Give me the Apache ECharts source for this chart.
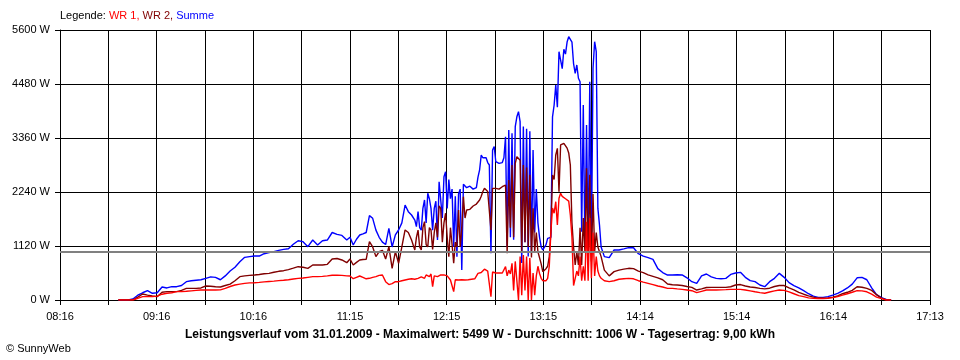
<!DOCTYPE html>
<html><head><meta charset="utf-8">
<script src="https://cdn.jsdelivr.net/npm/echarts@6/dist/echarts.min.js"></script>
<style>html,body{margin:0;padding:0;background:#fff}#c{width:960px;height:360px}</style>
</head><body><div id="c"></div>
<script>
const tickLabels = ['08:16','09:16','10:16','11:15','12:15','13:15','14:14','15:14','16:14','17:13'];
const yTicks = [0,1120,2240,3360,4480,5600];
const average = 1006;

const times = [
'08:52','08:55','08:58','09:01','09:04','09:07','09:10','09:13','09:16','09:19','09:22','09:25','09:28',
'09:31','09:34','09:37','09:40','09:43','09:46','09:49','09:52','09:55','09:58','10:01','10:04','10:07',
'10:10','10:13','10:16','10:19','10:22','10:25','10:28','10:31','10:34','10:37','10:40','10:43','10:46',
'10:49','10:52','10:55','10:58','11:01','11:04','11:07','11:10','11:13',
'11:15','11:17','11:19','11:21','11:23','11:25','11:27','11:29','11:31','11:33','11:35','11:37','11:39','11:41','11:43','11:45','11:47','11:49','11:51','11:53','11:55',
'11:56','11:57','11:58','11:59',
'12:00','12:01','12:02','12:03','12:04','12:05','12:06','12:07','12:08','12:09',
'12:10','12:11','12:12','12:13','12:14','12:15','12:16','12:17','12:18','12:19',
'12:20','12:21','12:22','12:23','12:24','12:25','12:26','12:27','12:28','12:29',
'12:30','12:31','12:32','12:33','12:34','12:35','12:36','12:37','12:38','12:39',
'12:40','12:41','12:42','12:43','12:44','12:45','12:46','12:47','12:48','12:49',
'12:50','12:51','12:52','12:53','12:54','12:55','12:56','12:57','12:58','12:59',
'13:00','13:01','13:02','13:03','13:04','13:05','13:06','13:07','13:08','13:09',
'13:10','13:11','13:12','13:13','13:14','13:15','13:16','13:17','13:18','13:19',
'13:20','13:21','13:22','13:23','13:24','13:25','13:26','13:27','13:28','13:29',
'13:30','13:31','13:32','13:33','13:34','13:35','13:36','13:37','13:38','13:39',
'13:40','13:41','13:42','13:43','13:44','13:45','13:46','13:47','13:48','13:49',
'13:50','13:52',
'13:55','13:58','14:01','14:04','14:07','14:10','14:13','14:16','14:19','14:22',
'14:25','14:28','14:31','14:34','14:37','14:40','14:43','14:46','14:49','14:52',
'14:55','14:58','15:01','15:04','15:07','15:10','15:13','15:16','15:19','15:22',
'15:25','15:28','15:31','15:34','15:37','15:40','15:43','15:46','15:49','15:52',
'15:55','15:58','16:01','16:04','16:07','16:10','16:13','16:16','16:19','16:22',
'16:25','16:28','16:31','16:34','16:37','16:40','16:43','16:46','16:49'
];

const wr1 = [
0,0,0,0,35,69,69,69,80,120,139,150,173,
173,180,190,200,207,207,207,207,210,242,280,311,330,
345,355,359,365,375,385,392,401,410,420,435,449,455,
470,484,484,490,500,512,512,510,500,
498,442,470,498,470,440,450,470,484,510,518,380,320,340,380,380,400,415,430,440,430,
440,450,470,480,
470,450,520,500,484,540,276,500,510,484,
500,520,540,520,510,500,480,415,400,173,
420,410,415,420,420,410,415,420,420,425,
430,430,440,450,553,580,570,600,640,657,
600,560,69,580,570,560,550,560,560,560,
600,691,500,620,540,761,200,800,830,0,
900,100,933,200,900,0,870,0,560,100,
500,700,550,450,400,380,400,450,700,1417,
1908,1800,2039,1555,2109,2213,2150,2150,2100,2080,
2050,1763,1300,300,450,600,500,900,400,700,
400,1625,400,1700,450,1400,500,900,600,500,
450,400,
380,400,430,440,449,440,400,370,345,320,
290,270,242,242,230,221,207,193,152,180,
207,207,207,210,215,221,221,221,207,190,
170,152,140,165,190,207,200,170,130,90,
70,45,35,30,30,35,50,69,100,130,
160,193,190,170,120,60,30,0,0
];

const wr2 = [
0,0,0,0,60,124,100,83,69,160,173,173,173,
200,242,242,242,250,290,285,276,270,300,330,400,484,
500,510,518,530,545,553,575,595,608,630,660,691,680,
657,726,726,726,740,850,860,830,774,
850,726,780,830,840,844,1210,1100,900,1003,1030,850,1106,657,1000,761,1100,1452,1400,1244,1037,
1300,1450,1100,1040,
1500,1625,1150,1100,1500,1452,1050,1400,1600,1300,
1950,1900,1200,1600,1800,1300,900,1500,1150,761,
1200,1100,1866,1100,1500,2143,1700,1866,1900,1880,
1900,1950,1960,1990,2020,2074,2150,2250,2316,2316,
2250,2213,1452,2316,2316,2316,2280,2300,2316,2350,
2385,2385,968,2489,1500,2800,1300,2834,2972,2950,
2900,1000,2800,1200,2750,1100,2600,880,1900,1000,
1400,1000,1000,750,588,600,650,700,900,1417,
2593,2500,3007,3146,2247,3215,3200,3249,3215,3150,
3050,2800,1600,1100,726,1000,726,1500,726,1700,
1000,2731,726,2600,800,2200,1000,1400,1100,1000,
900,620,
500,588,620,640,657,650,600,567,520,490,
460,420,332,315,311,300,280,263,207,230,
260,262,262,262,262,275,311,320,290,270,
258,242,230,245,280,300,300,250,210,160,
120,85,60,40,35,45,60,83,130,160,
200,276,265,240,200,110,40,0,0
];

const summe = [
0,0,0,20,100,150,193,139,150,270,250,276,276,
300,380,400,410,420,449,480,470,420,500,600,680,795,
885,900,912,912,960,985,1000,1030,1050,1064,1155,1230,1210,
1106,1244,1141,1230,1244,1400,1360,1340,1244,
1300,1141,1260,1348,1370,1400,1750,1694,1450,1300,1200,1150,1486,1100,1350,1452,1600,1970,1832,1763,1659,
1521,1832,1500,1450,
1900,2074,1600,2213,2100,1900,1450,1900,2050,1244,
2450,2489,1700,2558,2661,1900,2500,2100,2300,1106,
2150,900,2200,2300,622,2400,2385,2330,2350,2360,
2330,2300,2310,2330,2550,2700,3007,2950,2980,2950,
2850,2800,968,3111,3180,2868,2834,2834,2834,2850,
2950,3387,1106,3526,1300,3457,1250,3595,3800,3906,
3700,767,3600,1200,3550,900,3500,1000,3111,1400,
2300,1600,1300,1100,1037,1000,1150,1279,1250,1300,
3800,4044,4459,4000,5150,5185,4800,5200,5100,5350,
5461,5499,5350,4900,4700,4874,4600,4528,1417,4044,
1100,3630,1000,4528,1000,4805,5358,5150,1900,1555,
1100,900,
880,1037,1037,1060,1085,1085,960,910,880,844,
650,570,518,518,525,520,460,380,345,500,
539,480,449,440,449,530,560,574,470,401,
380,311,276,380,449,553,470,360,300,250,
193,130,80,55,55,70,100,139,190,250,
330,460,470,420,250,110,50,14,0
];

const FONT = '"Liberation Sans", Arial, sans-serif';
function toMin(s){ const p = s.split(':').map(Number); return p[0]*60 + p[1]; }
const nInt = (tickLabels.length - 1) * 2;
const tStart = toMin(tickLabels[0]), tEnd = toMin(tickLabels[tickLabels.length-1]);
const xPos = t => (toMin(t) - tStart) / (tEnd - tStart) * nInt;
const mk = arr => times.map((t,i) => [xPos(t), arr[i]]);

const chart = echarts.init(document.getElementById('c'), null, {renderer:'canvas'});
chart.setOption({
  animation: false,
  backgroundColor: '#fff',
  grid: {left: 60, right: 30, top: 30, bottom: 60, containLabel: false},
  title: [
    {left: 60, top: 10, padding: 0, textStyle: {fontSize: 11, fontWeight: 'normal', fontFamily: FONT,
      rich: {
        a: {color: '#000', fontSize: 11, fontFamily: FONT},
        b: {color: '#ff0000', fontSize: 11, fontFamily: FONT},
        c: {color: '#800000', fontSize: 11, fontFamily: FONT},
        d: {color: '#0000ff', fontSize: 11, fontFamily: FONT}
      }},
      text: '{a|Legende: }{b|WR 1, }{c|WR 2, }{d|Summe}'},
    {left: 'center', top: 329, padding: 0, text: 'Leistungsverlauf vom 31.01.2009 - Maximalwert: 5499 W - Durchschnitt: 1006 W - Tagesertrag: 9,00 kWh',
      textStyle: {fontSize: 12, fontWeight: 'bold', color: '#000', fontFamily: FONT}},
    {left: 6, top: 343, padding: 0, text: '© SunnyWeb', textStyle: {fontSize: 11, fontWeight: 'normal', color: '#000', fontFamily: FONT}}
  ],
  xAxis: {
    type: 'value', min: 0, max: nInt, interval: 1,
    axisLine: {show: true, lineStyle: {color: '#000', width: 1}},
    axisTick: {show: true, length: 5, lineStyle: {color: '#000'}},
    splitLine: {show: true, lineStyle: {color: '#000', width: 1}},
    axisLabel: {color: '#000', fontSize: 11, fontFamily: FONT, margin: 11, showMinLabel: true, showMaxLabel: true,
      formatter: v => (Math.round(v) % 2 === 0 ? tickLabels[Math.round(v)/2] : '')}
  },
  yAxis: {
    type: 'value', min: yTicks[0], max: yTicks[yTicks.length-1], interval: yTicks[1]-yTicks[0],
    axisLine: {show: true, lineStyle: {color: '#000', width: 1}},
    axisTick: {show: true, length: 5, lineStyle: {color: '#000'}},
    splitLine: {show: true, lineStyle: {color: '#000', width: 1}},
    axisLabel: {color: '#000', fontSize: 11, fontFamily: FONT, margin: 10, formatter: v => v + ' W'}
  },
  series: [
    {type: 'line', data: [], z: 1, silent: true,
     markLine: {silent: true, symbol: 'none', label: {show: false},
       lineStyle: {color: '#808080', width: 2, type: 'solid'}, data: [{yAxis: average}]}},
    {name: 'Summe', type: 'line', data: mk(summe), showSymbol: false, symbol: 'none', z: 2,
     lineStyle: {color: '#0000ff', width: 1.4}},
    {name: 'WR 2', type: 'line', data: mk(wr2), showSymbol: false, symbol: 'none', z: 3,
     lineStyle: {color: '#800000', width: 1.4}},
    {name: 'WR 1', type: 'line', data: mk(wr1), showSymbol: false, symbol: 'none', z: 4,
     lineStyle: {color: '#ff0000', width: 1.4}}
  ]
});
</script></body></html>
